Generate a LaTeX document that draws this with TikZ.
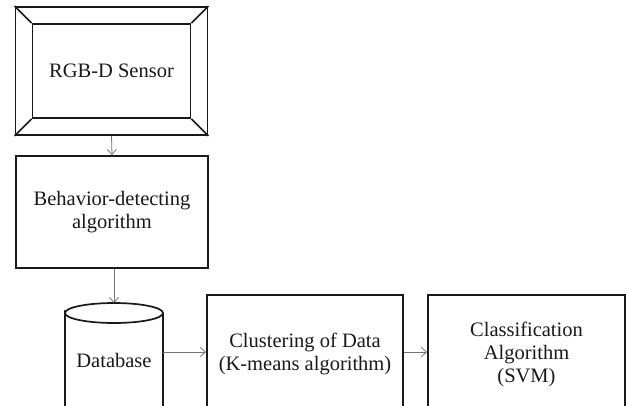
\documentclass[tikz,border=0pt]{standalone}
\usepackage{fontspec}
\setmainfont{Liberation Serif}
\usetikzlibrary{arrows.meta}
\begin{document}
\begin{tikzpicture}[x=1pt,y=-1pt,
  box/.style={draw=black!90,line width=1.9pt,align=center,inner sep=0pt,
    font=\fontsize{20.5}{23}\selectfont,text=black!90},
  lbl/.style={align=center,inner sep=0pt,font=\fontsize{20.5}{23}\selectfont,text=black!90},
  link/.style={draw=black!55,line width=0.8pt,-{Straight Barb[length=5pt,width=9pt]}}]
\useasboundingbox (0,0) rectangle (627,405);
\clip (0,0) rectangle (627,405);
% sensor: bevelled frame
\node[box,minimum width=192pt,minimum height=128pt] (sensor) at (111.5,71) {};
\node[box,minimum width=158pt,minimum height=94pt] (sensorin) at (111.5,71) {RGB-D Sensor};
\foreach \c in {north west,north east,south west,south east}
  \draw[black!90,line width=1.7pt] (sensor.\c) -- (sensorin.\c);
% processing chain
\node[box,minimum width=192pt,minimum height=112pt] (behav) at (112,212)
  {Behavior-detecting\\algorithm};
\node[box,minimum width=196pt,minimum height=118pt] (clust) at (305,354)
  {Clustering of Data\\(K-means algorithm)};
\node[box,minimum width=197pt,minimum height=118pt] (class) at (526.5,354)
  {Classification\\Algorithm\\(SVM)};
% database cylinder
\coordinate (dbtop) at (114,303);
\coordinate (dbR) at (163,352);
\draw[black!90,line width=1.7pt] (65,313) arc[start angle=180,end angle=360,x radius=49,y radius=10]
  arc[start angle=0,end angle=180,x radius=49,y radius=10] -- (65,420)
  (163,313) -- (163,420);
\node[lbl] (db) at (114,360) {Database};
% connectors
\draw[link] (sensor.south) -- (behav.north);
\draw[link] (behav.south -| dbtop) -- (dbtop);
\draw[link] (dbR) -- (dbR -| clust.west);
\draw[link] (clust.east |- dbR) -- (class.west |- dbR);
\end{tikzpicture}
\end{document}
